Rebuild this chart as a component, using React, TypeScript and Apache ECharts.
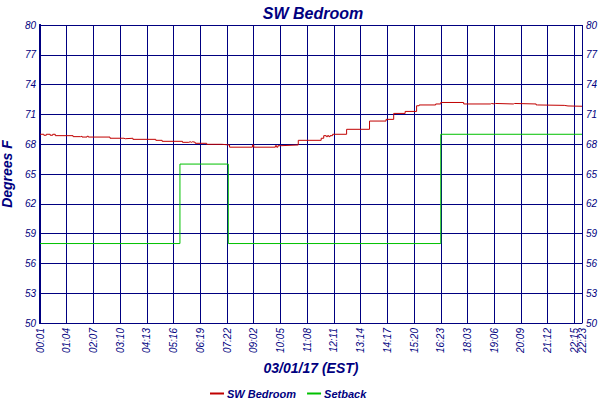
import * as echarts from 'echarts';
import { useEffect, useRef } from 'react';

// x positions are sample numbers (21 samples between labelled ticks)
const xTickLabels = [
  '00:01', '01:04', '02:07', '03:10', '04:13', '05:16', '06:19', '07:22',
  '09:02', '10:05', '11:08', '12:11', '13:14', '14:17', '15:20', '16:23',
  '18:03', '19:06', '20:09', '21:12', '22:15', '22:23',
];
const samplesPerTick = 21;
const lastSample = 426;

// SW Bedroom temperature (step changes)
const tempSamples = [
  0, 3, 5, 8, 10, 12, 26, 32, 33, 37, 38, 55, 66, 67, 73, 91, 96, 112, 117,
  118, 119, 120, 122, 131, 143, 149, 167, 168, 185, 186, 187, 189, 203, 221,
  223, 225, 226, 227, 228, 230, 241, 259, 272, 278, 287, 296, 298, 311, 315,
  333, 354, 355, 357, 358, 372, 373, 390, 391, 412, 415, 426,
];
const tempValues = [
  69.0, 68.9, 69.0, 68.9, 69.0, 68.86, 68.76, 68.8, 68.72, 68.8, 68.72, 68.6,
  68.55, 68.6, 68.49, 68.39, 68.29, 68.19, 68.25, 68.19, 68.25, 68.19, 68.09,
  67.99, 67.92, 67.7, 67.92, 67.7, 67.85, 67.7, 67.85, 67.92, 68.39, 68.6,
  68.86, 68.76, 68.86, 68.76, 68.86, 69.0, 69.5, 70.33, 70.5, 71.1, 71.3,
  71.87, 71.95, 72.05, 72.2, 72.05, 72.1, 72.05, 72.1, 72.05, 72.1, 72.05,
  71.95, 71.91, 71.85, 71.82, 71.82,
];

// setback
const setbackSamples = [0, 110, 148, 315, 426];
const setbackValues = [58, 66, 58, 69, 69];

const navy = '#000080';
const font = 'Liberation Sans';

const labelStyle = {
  color: navy,
  fontFamily: font,
  fontStyle: 'italic' as const,
  fontSize: 10,
};

const App = () => {
  const chartRef = useRef<HTMLDivElement>(null);

  useEffect(() => {
    if (!chartRef.current) return;
    const chart = echarts.init(chartRef.current, null, { renderer: 'svg' });

    const yAxisBase = {
      type: 'value' as const,
      min: 50,
      max: 80,
      interval: 3,
      axisTick: { show: false },
      axisLine: { show: true, lineStyle: { color: navy, width: 2 } },
      axisLabel: { ...labelStyle, margin: 4 },
    };

    const option: echarts.EChartsOption = {
      animation: false,
      backgroundColor: '#fff',
      title: {
        text: 'SW Bedroom',
        left: 308,
        textAlign: 'center',
        top: 0,
        textStyle: {
          color: navy,
          fontFamily: font,
          fontStyle: 'italic',
          fontWeight: 'bold',
          fontSize: 16,
        },
      },
      legend: {
        left: 205,
        top: 383,
        icon: 'rect',
        itemWidth: 14,
        itemHeight: 2,
        itemGap: 11,
        textStyle: {
          color: navy,
          fontFamily: font,
          fontStyle: 'italic',
          fontWeight: 'bold',
          fontSize: 11,
          padding: [0, 0, 0, -2],
        },
        data: ['SW Bedroom', 'Setback'],
      },
      grid: { left: 40, right: 18, top: 25, bottom: 77, outerBoundsMode: 'none' } as any,
      xAxis: [
        {
          type: 'value',
          min: 0,
          max: lastSample,
          interval: samplesPerTick,
          name: '03/01/17 (EST)',
          nameLocation: 'middle',
          nameGap: 36,
          nameTextStyle: {
            color: navy,
            fontFamily: font,
            fontStyle: 'italic',
            fontWeight: 'bold',
            fontSize: 14,
          },
          axisLine: { lineStyle: { color: navy, width: 1 } },
          axisTick: { show: false },
          splitLine: { show: true, lineStyle: { color: navy, width: 1 } },
          axisLabel: {
            ...labelStyle,
            rotate: 90,
            margin: 5,
            showMinLabel: true,
            showMaxLabel: false,
            formatter: (v: number) => xTickLabels[Math.round(v / samplesPerTick)],
          },
        },
        {
          // only carries the end-of-day label, which sits close to 22:15
          type: 'value',
          position: 'bottom',
          min: 0,
          max: lastSample,
          interval: lastSample,
          axisLine: { show: false },
          axisTick: { show: false },
          splitLine: { show: false },
          axisLabel: {
            ...labelStyle,
            rotate: 90,
            margin: 5,
            showMinLabel: false,
            showMaxLabel: true,
            formatter: (v: number) => (v >= lastSample ? xTickLabels[xTickLabels.length - 1] : ''),
          },
        },
      ],
      yAxis: [
        {
          ...yAxisBase,
          position: 'left',
          name: 'Degrees F',
          nameLocation: 'middle',
          nameGap: 26,
          nameTextStyle: {
            color: navy,
            fontFamily: font,
            fontStyle: 'italic',
            fontWeight: 'bold',
            fontSize: 14,
          },
          splitLine: { show: true, lineStyle: { color: navy, width: 1 } },
        },
        {
          ...yAxisBase,
          position: 'right',
          splitLine: { show: false },
        },
      ],
      series: [
        {
          name: 'SW Bedroom',
          type: 'line',
          step: 'end',
          symbol: 'none',
          color: '#c00000',
          lineStyle: { color: '#c00000', width: 1 },
          data: tempSamples.map((s, i) => [s, tempValues[i]]),
          z: 3,
        },
        {
          name: 'Setback',
          type: 'line',
          step: 'end',
          symbol: 'none',
          color: '#00c000',
          lineStyle: { color: '#00c000', width: 1 },
          data: setbackSamples.map((s, i) => [s, setbackValues[i]]),
          z: 2,
        },
      ],
    };

    chart.setOption(option);
    return () => {
      chart.dispose();
    };
  }, []);

  return (
    <div
      ref={chartRef}
      style={{ position: 'fixed', left: 0, top: 0, width: 600, height: 400 }}
    />
  );
};

export default App;
